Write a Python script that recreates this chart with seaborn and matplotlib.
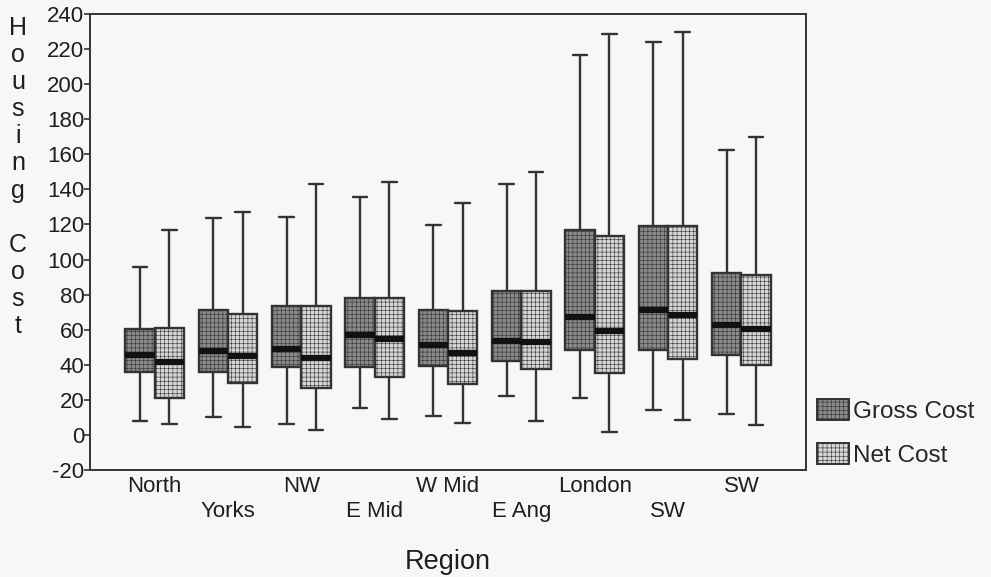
import numpy as np
import pandas as pd
import matplotlib
matplotlib.use("Agg")
import matplotlib.pyplot as plt
from matplotlib.patches import Patch
import seaborn as sns

# ---- data ----
region_labels = ["North", "Yorks", "NW", "E Mid", "W Mid", "E Ang", "London", "SW", "SW"]
series_names = ["Gross Cost", "Net Cost"]

gross_low = [8, 10.5, 6, 15.6, 11, 22, 21, 14, 12]
gross_q1 = [36, 36, 38.5, 39, 39.4, 42.3, 48.6, 48.6, 45.5]
gross_med = [45.5, 47.6, 49, 57, 51, 53.7, 67.4, 71.2, 62.7]
gross_q3 = [60.4, 71.4, 73.7, 77.9, 71.4, 82.3, 116.6, 119.4, 92.2]
gross_high = [95.6, 123.8, 124.4, 135.8, 119.6, 142.9, 216.7, 224, 162.5]

net_low = [6, 4.8, 2.7, 9.3, 7, 7.8, 1.9, 8.6, 5.7]
net_q1 = [21.3, 29.5, 26.7, 33.3, 29.1, 37.5, 35.2, 43.2, 39.6]
net_med = [41.5, 45, 43.8, 54.7, 46.5, 52.8, 59.2, 68.6, 60.4]
net_q3 = [60.7, 69, 73.3, 77.9, 70.5, 82.3, 113.3, 119.4, 91.4]
net_high = [117, 127, 142.9, 144, 132.2, 150, 228.6, 229.9, 170.1]

y_ticks = list(range(-20, 241, 20))

# five-number summaries per box: with 5 values, seaborn's quartiles hit them exactly
rows = []
for i in range(len(region_labels)):
    for name, arrs in ((series_names[0], (gross_low, gross_q1, gross_med, gross_q3, gross_high)),
                       (series_names[1], (net_low, net_q1, net_med, net_q3, net_high))):
        for a in arrs:
            rows.append({"region": i, "type": name, "cost": a[i]})
df = pd.DataFrame(rows)

sns.set_theme(style="white")
plt.rcParams["font.family"] = ["Liberation Sans", "DejaVu Sans"]
plt.rcParams["hatch.linewidth"] = 0.4

bg = "#f7f7f5"
txt = "#1e1e1e"
fig = plt.figure(figsize=(9.91, 5.77), dpi=100, facecolor=bg)
ax = fig.add_axes([90 / 991, 1 - 470 / 577, (806 - 90) / 991, (470 - 14) / 577])
ax.set_facecolor(bg)

face = {"Gross Cost": "#8a8a8a", "Net Cost": "#d6d6d6"}
sns.boxplot(data=df, x="region", y="cost", hue="type", hue_order=series_names,
            palette=face, whis=(0, 100), width=0.8, gap=0, dodge=True,
            linecolor="#333333", linewidth=1.7, saturation=1,
            medianprops=dict(color="#111111", linewidth=4.5),
            legend=False, ax=ax)

for p in ax.patches:
    p.set_hatch("++++")

ax.set_xlim(-0.88, 8.88)
ax.set_ylim(-20, 240)
ax.set_yticks(y_ticks)
ax.set_yticklabels([str(t) for t in y_ticks], fontsize=16, color=txt)
ax.set_xticks(range(len(region_labels)))
ax.set_xticklabels([("\n" + r) if i % 2 else r for i, r in enumerate(region_labels)],
                   fontsize=16, color=txt, linespacing=1.25)
ax.tick_params(axis="x", length=0, pad=4)
ax.tick_params(axis="y", length=4, width=1.2, left=True, direction="out", pad=0, color="#333333")
ax.set_xlabel("Region", fontsize=19.5, color=txt, labelpad=20)
ax.set_ylabel("")
for s in ax.spines.values():
    s.set_color("#333333")
    s.set_linewidth(1.4)
    s.set_visible(True)

fig.text(18 / 991, 1 - 177 / 577, "H\no\nu\ns\ni\nn\ng\n\nC\no\ns\nt",
         ha="center", va="center", fontsize=18, linespacing=1.16, color=txt)

handles = [Patch(facecolor=face[n], edgecolor="#333333", hatch="++++", linewidth=1.4) for n in series_names]
fig.legend(handles, series_names, loc="upper left", bbox_to_anchor=(817 / 991, 1 - 399 / 577),
           frameon=False, fontsize=17.5, handlelength=1.3, handleheight=0.95,
           handletextpad=0.2, labelspacing=0.85, borderaxespad=0, borderpad=0)

fig.savefig("out.png", dpi=100, facecolor=bg)
